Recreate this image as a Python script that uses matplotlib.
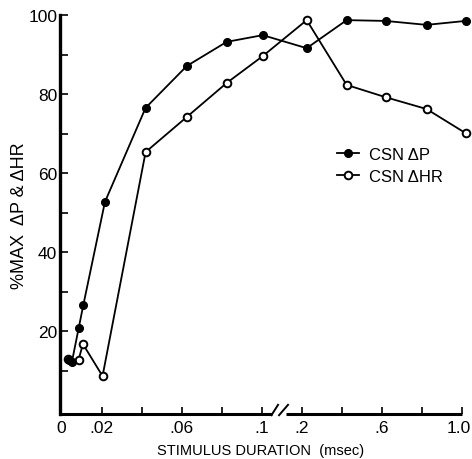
import numpy as np
import matplotlib
matplotlib.use('Agg')
import matplotlib.pyplot as plt
import matplotlib.transforms as mtransforms
from matplotlib.lines import Line2D

plt.rcParams['font.family'] = ['Liberation Sans', 'DejaVu Sans']

# stimulus duration (msec) and % max response
dur_p = [0.0035, 0.0052, 0.0086, 0.0109, 0.0217, 0.042, 0.0626, 0.0825, 0.1025,
         0.2245, 0.424, 0.618, 0.823, 1.018]
val_p = [12.7, 12.2, 20.8, 26.6, 52.7, 76.5, 87.1, 93.2, 94.9,
         91.6, 98.7, 98.5, 97.5, 98.5]
dur_hr = [0.0032, 0.0085, 0.0107, 0.0205, 0.042, 0.0626, 0.0825, 0.1025,
          0.2245, 0.424, 0.618, 0.823, 1.018]
val_hr = [12.9, 12.7, 16.7, 8.6, 65.3, 74.2, 82.8, 89.6,
          98.7, 82.3, 79.2, 76.2, 70.1]

xticks_major = [0, 0.02, 0.06, 0.1, 0.2, 0.6, 1.0]
xtick_labels = ['0', '.02', '.06', '.1', '.2', '.6', '1.0']
xticks_minor = [0.04, 0.08, 0.4, 0.8]
yticks_major = [20, 40, 60, 80, 100]
yticks_minor = [10, 30, 50, 70, 90]


# broken axis: 0-.1 in steps of .02, then .2-1.0 in steps of .2
def fwd(x):
    x = np.asarray(x, dtype=float)
    return np.where(x <= 0.1, x / 0.02,
                    np.where(x < 0.2, 5 + (x - 0.1) / 0.1, 6 + (x - 0.2) / 0.2))


def inv(p):
    p = np.asarray(p, dtype=float)
    return np.where(p <= 5, p * 0.02,
                    np.where(p < 6, 0.1 + (p - 5) * 0.1, 0.2 + (p - 6) * 0.2))


fig = plt.figure(figsize=(4.72, 4.60), dpi=100)
ax = fig.add_axes([60 / 472, 45 / 460, 402 / 472, 399 / 460])
ax.set_xscale('function', functions=(fwd, inv))
ax.set_xlim(-0.00075, 1.0)
ax.set_ylim(-1, 100)

ax.plot(dur_hr, val_hr, '-o', color='black', lw=1.3, ms=5.5, mfc='white',
        mec='black', mew=1.4, clip_on=False, zorder=3, label='CSN \u0394HR')
ax.plot(dur_p, val_p, '-o', color='black', lw=1.3, ms=5.5, mfc='black',
        mec='black', clip_on=False, zorder=4, label='CSN \u0394P')

for s in ['top', 'right', 'bottom']:
    ax.spines[s].set_visible(False)
ax.spines['left'].set_linewidth(2.4)

# bottom axis drawn in two pieces with the // break
tr = ax.get_xaxis_transform()
ax.plot([-0.00075, 0.125], [0, 0], color='black', lw=2.2, transform=tr,
        clip_on=False, solid_capstyle='butt')
ax.plot([0.16, 1.0], [0, 0], color='black', lw=2.2, transform=tr,
        clip_on=False, solid_capstyle='butt')
ax.plot([0.1242, 0.1407], [-0.003, 0.023], color='black', lw=1.4,
        transform=tr, clip_on=False)
ax.plot([0.1432, 0.1656], [-0.003, 0.023], color='black', lw=1.4,
        transform=tr, clip_on=False)

ax.set_xticks(xticks_major)
ax.set_xticklabels(xtick_labels)
ax.set_xticks(xticks_minor, minor=True)
ax.set_yticks(yticks_major)
ax.set_yticks(yticks_minor, minor=True)
ax.tick_params(axis='both', which='both', direction='in', width=1.2,
               labelsize=12.5, color='black')
ax.tick_params(axis='x', which='both', length=5, pad=4)
ax.tick_params(axis='y', which='both', length=6, pad=2)
ax.xaxis.get_major_ticks()[0].tick1line.set_visible(False)

# nudge the last label in so it stays inside the picture
last = ax.get_xticklabels()[-1]
last.set_transform(last.get_transform() +
                   mtransforms.ScaledTranslation(-3 / 100, 0, fig.dpi_scale_trans))

ax.set_xlabel('STIMULUS DURATION  (msec)', fontsize=10.5, labelpad=6)
ax.set_ylabel('%MAX  \u0394P & \u0394HR', fontsize=13, labelpad=0)

handles = [Line2D([], [], color='black', marker='o', ms=5.5, mfc='black', lw=1.3),
           Line2D([], [], color='black', marker='o', ms=5.5, mfc='white',
                  mew=1.4, lw=1.3)]
ax.legend(handles, ['CSN \u0394P', 'CSN \u0394HR'], loc='upper left',
          bbox_to_anchor=(0.69, 0.67), frameon=False, fontsize=12,
          handlelength=1.3, handletextpad=0.6, labelspacing=0.45,
          borderpad=0, borderaxespad=0)

fig.savefig('out.png', dpi=100)
